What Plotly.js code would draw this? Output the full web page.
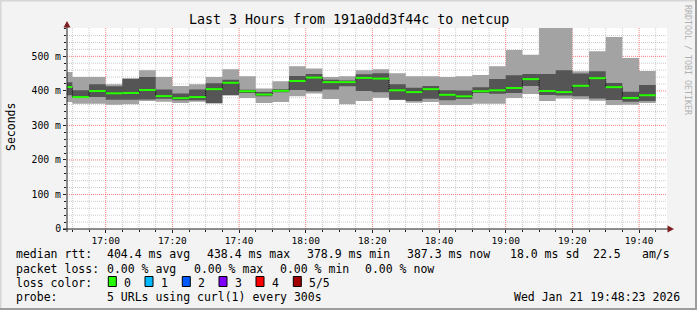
<!DOCTYPE html>
<html>
<head>
<meta charset="utf-8">
<script src="https://cdn.plot.ly/plotly-3.0.1.min.js"></script>
<style>
  html, body { margin: 0; padding: 0; background: #f3f3f3; }
  #chart { width: 697px; height: 310px; }
  .js-plotly-plot .plotly .gridlayer path.crisp,
  .js-plotly-plot .plotly .minor-gridlayer path.crisp { shape-rendering: geometricPrecision !important; }
</style>
</head>
<body>
<div id="chart"></div>
<script>
// ---- data (ms), one value per 5-minute step starting 16:45 ----
const stepStart = '2026-01-21 16:45:00';
const stepMinutes = 5;
const medianRtt = [411, 382, 399.5, 393, 393.7, 402.5, 384.8, 378.9, 382, 405, 423.3, 399, 389.4, 400, 428.5, 438.4, 425.3, 425.3, 437.5, 435.5, 401.6, 396.4, 405, 388.5, 384.2, 399, 401.6, 408.2, 434, 399.5, 396.4, 414.6, 436.8, 410.8, 379.5, 387.3];
const pingMin  = [367.7, 363, 363, 360, 361, 370.6, 368.8, 364.8, 368.8, 363.9, 387, 379.3, 364.8, 367.4, 384.2, 392, 376.4, 361, 370.6, 380, 373.5, 365.4, 367.7, 359, 358.7, 362.5, 362.5, 379, 390.8, 370.6, 377.8, 376, 371, 358.7, 359.6, 364.5];
const pingLow  = [387, 380, 382, 374.6, 374.6, 375, 377.5, 372.6, 372.6, 363.9, 387, 393.7, 384.2, 395.8, 402.5, 398.7, 404, 413, 399.5, 395.8, 374.6, 370.3, 377.5, 372.6, 376.1, 393.7, 391.4, 393.7, 413.7, 387.7, 386.5, 384.2, 377.8, 373.2, 368.3, 370.6];
const pingHigh = [424.8, 401.6, 419, 413, 435, 440, 404, 392, 404, 421.8, 432, 403, 396.6, 405, 442.7, 448.8, 432.5, 429.7, 448, 450.8, 418.9, 408.8, 413.7, 401.6, 401, 410.8, 434, 445, 448.5, 448.5, 459.5, 450, 456.6, 422.7, 397.2, 416.6];
const pingMax  = [454.5, 440, 440, 419, 436, 459.5, 440, 413.7, 419, 440, 462.4, 442, 406.5, 427.6, 471, 464.4, 440, 442, 459.5, 462.4, 450.8, 442.1, 442.1, 439.8, 442.1, 445.6, 471, 518, 504.9, 640, 640, 456.6, 514.5, 555.6, 495.1, 457.2];

const yTickVals = [0, 100, 200, 300, 400, 500];
const yTickText = ['0', '100 m', '200 m', '300 m', '400 m', '500 m'];
const xRange = ['2026-01-21 16:48:23', '2026-01-21 19:48:23'];

const lossLabels = ['0', '1', '2', '3', '4', '5/5'];
const lossColors = ['#26ff00', '#00b8ff', '#0059ff', '#7e00ff', '#ff0000', '#a00000'];

// ---- helpers ----
function pad(n) { return (n < 10 ? '0' : '') + n; }
function fmt(d) {
  return d.getUTCFullYear() + '-' + pad(d.getUTCMonth() + 1) + '-' + pad(d.getUTCDate()) + ' ' +
    pad(d.getUTCHours()) + ':' + pad(d.getUTCMinutes()) + ':' + pad(d.getUTCSeconds());
}
const t0 = new Date(stepStart.replace(' ', 'T') + 'Z').getTime();
const n = medianRtt.length;
const times = [];
for (let i = 0; i <= n; i++) times.push(fmt(new Date(t0 + i * stepMinutes * 60000)));
function closeStep(arr) { return arr.concat([arr[arr.length - 1]]); }

// minor grid positions (not coinciding with major ones)
const xMinor = [];
for (let i = 1; i <= n; i++) {
  const t = new Date(t0 + i * stepMinutes * 60000);
  if (t.getUTCMinutes() % 20 !== 0) xMinor.push(fmt(t));
}
const yMinor = [];
for (let v = 20; v <= 580; v += 20) if (v % 100 !== 0) yMinor.push(v);

// pixel -> paper
const L = 67, R = 667, T = 28, B = 229;
const px = x => (x - L) / (R - L);
const py = y => (B - y) / (B - T);

const band = (y, fill, color) => ({
  x: times, y: closeStep(y), type: 'scatter', mode: 'lines',
  line: { width: 0, shape: 'hv', color: color || 'rgba(0,0,0,0)' },
  fill: fill ? 'tonexty' : 'none', fillcolor: color, hoverinfo: 'skip', showlegend: false
});

// median horizontal segments
const medX = [], medY = [];
for (let i = 0; i < n; i++) {
  medX.push(times[i], times[i + 1], null);
  medY.push(medianRtt[i], medianRtt[i], null);
}

const traces = [
  band(pingMin, false),
  band(pingMax, true, '#a3a3a3'),
  band(pingLow, false),
  band(pingHigh, true, '#555555'),
  { x: times, y: closeStep(medianRtt), type: 'scatter', mode: 'lines',
    line: { width: 1, shape: 'hv', color: '#000000', dash: '1px,1px' }, hoverinfo: 'skip', showlegend: false },
  { x: medX, y: medY, type: 'scatter', mode: 'lines', connectgaps: false,
    line: { width: 2, color: lossColors[0] }, hoverinfo: 'skip', showlegend: false }
];

const mono = 'DejaVu Sans Mono, monospace';
const ann = [];
function txt(x, y, s, opts) {
  ann.push(Object.assign({ xref: 'paper', yref: 'paper', x: px(x), y: py(y), text: s, showarrow: false,
    xanchor: 'left', yanchor: 'middle', font: { family: mono, size: 11.5, color: '#000' }, borderpad: 0 }, opts || {}));
}
txt(348.5, 19, 'Last 3 Hours from 191a0dd3f44c to netcup', { xanchor: 'center', font: { family: mono, size: 13.3, color: '#000' } });
txt(11, 127, 'Seconds', { xanchor: 'center', textangle: -90, font: { family: mono, size: 11.5, color: '#000' } });
txt(688, 60, 'RRDTOOL / TOBI OETIKER', { xanchor: 'center', textangle: 90, font: { family: mono, size: 8.3, color: '#b0b0b0' } });

txt(15, 254, 'median rtt:');
txt(106, 254, '404.4 ms avg');
txt(206, 254, '438.4 ms max');
txt(306, 254, '378.9 ms min');
txt(406, 254, '387.3 ms now');
txt(509, 254, '18.0 ms sd');
txt(592, 254, '22.5');
txt(641, 254, 'am/s');

txt(15, 268.5, 'packet loss:');
txt(106, 268.5, '0.00 % avg');
txt(192.5, 268.5, '0.00 % max');
txt(278.5, 268.5, '0.00 % min');
txt(364, 268.5, '0.00 % now');

txt(15, 282.5, 'loss color:');
const boxX = [108.3, 145, 182.3, 219, 256, 293.3];
const labX = [123, 160, 197, 234, 271, 308];
const shapes = [];
for (let i = 0; i < lossLabels.length; i++) {
  shapes.push({ type: 'rect', xref: 'paper', yref: 'paper', x0: px(boxX[i]), x1: px(boxX[i] + 8), y0: py(286.5), y1: py(276.5),
    fillcolor: lossColors[i], line: { color: '#000', width: 1 } });
  txt(labX[i], 282.5, lossLabels[i]);
}

txt(15, 296.5, 'probe:');
txt(106, 296.5, '5 URLs using curl(1) every 300s');
txt(681, 296.5, 'Wed Jan 21 19:48:23 2026', { xanchor: 'right' });

// axis lines & arrows
shapes.push({ type: 'line', xref: 'paper', yref: 'paper', x0: px(67), x1: px(67), y0: py(232), y1: py(25), line: { color: '#1f1f1f', width: 1 } });
shapes.push({ type: 'line', xref: 'paper', yref: 'paper', x0: px(63), x1: px(670), y0: py(229), y1: py(229), line: { color: '#1f1f1f', width: 1 } });
shapes.push({ type: 'path', xref: 'paper', yref: 'paper',
  path: 'M ' + px(67) + ' ' + py(21) + ' L ' + px(63.5) + ' ' + py(27.5) + ' L ' + px(70.5) + ' ' + py(27.5) + ' Z',
  fillcolor: '#7f1f1f', line: { width: 0 } });
shapes.push({ type: 'path', xref: 'paper', yref: 'paper',
  path: 'M ' + px(674) + ' ' + py(229) + ' L ' + px(667.5) + ' ' + py(225.5) + ' L ' + px(667.5) + ' ' + py(232.5) + ' Z',
  fillcolor: '#7f1f1f', line: { width: 0 } });
// frame (3D look)
shapes.push({ type: 'rect', xref: 'paper', yref: 'paper', x0: px(0), x1: px(697), y0: py(0), y1: py(1.5), fillcolor: '#d6d6d6', line: { width: 0 }, layer: 'below' });
shapes.push({ type: 'rect', xref: 'paper', yref: 'paper', x0: px(0), x1: px(1.5), y0: py(0), y1: py(310), fillcolor: '#d6d6d6', line: { width: 0 }, layer: 'below' });
shapes.push({ type: 'rect', xref: 'paper', yref: 'paper', x0: px(695), x1: px(697), y0: py(0), y1: py(310), fillcolor: '#9c9c9c', line: { width: 0 } });
shapes.push({ type: 'rect', xref: 'paper', yref: 'paper', x0: px(0), x1: px(697), y0: py(308), y1: py(310), fillcolor: '#9c9c9c', line: { width: 0 } });

const layout = {
  width: 697, height: 310,
  margin: { l: L, r: 697 - R, t: T, b: 310 - B, pad: 0 },
  paper_bgcolor: '#f3f3f3', plot_bgcolor: '#ffffff',
  showlegend: false,
  font: { family: mono, size: 10, color: '#000' },
  xaxis: {
    type: 'date', range: xRange, tickformat: '%H:%M',
    tick0: '2026-01-21 17:00:00', dtick: 20 * 60000,
    showgrid: true, gridcolor: 'rgba(255,40,40,0.6)', griddash: '1px,1px', gridwidth: 1,
    minor: { tickmode: 'array', tickvals: xMinor, showgrid: true, gridcolor: 'rgba(140,140,140,0.45)', griddash: '1px,1px', ticks: 'outside', ticklen: 2, tickcolor: '#1f1f1f' },
    ticks: 'outside', ticklen: 3, tickcolor: '#1f1f1f',
    showline: false, zeroline: false, fixedrange: true,
    tickfont: { family: mono, size: 9.5, color: '#000' }
  },
  yaxis: {
    range: [0, 582], tickvals: yTickVals, ticktext: yTickText,
    showgrid: true, gridcolor: 'rgba(255,40,40,0.6)', griddash: '1px,1px', gridwidth: 1,
    minor: { tickmode: 'array', tickvals: yMinor, showgrid: true, gridcolor: 'rgba(140,140,140,0.45)', griddash: '1px,1px', ticks: 'outside', ticklen: 2, tickcolor: '#1f1f1f' },
    ticks: 'outside', ticklen: 3, tickcolor: '#1f1f1f',
    showline: false, zeroline: false, fixedrange: true,
    tickfont: { family: mono, size: 9.8, color: '#000' }
  },
  annotations: ann,
  shapes: shapes
};

Plotly.newPlot('chart', traces, layout, { staticPlot: true, displayModeBar: false });
</script>
</body>
</html>
